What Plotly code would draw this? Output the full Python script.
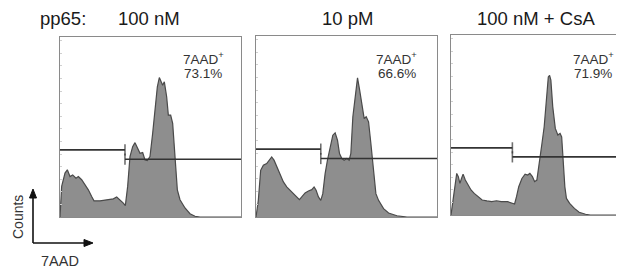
import plotly.graph_objects as go

# ---- data (x: 7AAD channel 0-1000, y: counts as % of panel height) ----
titles = ["100 nM", "10 pM", "100 nM + CsA"]
label_prefix = "pp65:"
pct_labels = ["73.1%", "66.6%", "71.9%"]

x1 = [0, 9.2, 27.6, 40.5, 55.2, 70.0, 88.4, 101.3, 119.7, 138.1, 156.5, 175.0, 187.8, 221.0, 257.8,
      294.7, 313.1, 331.5, 349.9, 361.0, 373.8, 386.7, 401.5, 414.4, 427.3, 442.0, 456.7, 469.6, 482.5,
      497.2, 512.0, 524.9, 537.8, 548.8, 556.2, 567.2, 576.4, 589.3, 598.5, 611.4, 622.5, 635.4, 648.3,
      663.0, 690.6, 718.2, 745.9, 773.5, 1000]
y1 = [0, 17.0, 24.4, 26.2, 22.5, 23.4, 21.6, 22.5, 20.7, 17.9, 15.1, 11.4, 9.0, 9.0, 9.6,
      10.1, 11.1, 9.6, 7.7, 6.3, 17.0, 33.6, 39.1, 41.3, 38.2, 35.4, 35.8, 31.7, 31.4,
      33.6, 46.5, 61.3, 72.3, 77.5, 76.0, 73.2, 75.1, 66.8, 56.6, 56.6, 52.0, 35.4, 15.1,
      9.6, 5.0, 1.8, 0.4, 0, 0]

x2 = [0, 12.9, 25.8, 40.6, 59.0, 73.8, 86.7, 99.6, 114.4, 132.8, 151.3, 169.7, 197.4, 225.1, 239.9,
      252.8, 271.2, 289.7, 308.1, 321.0, 332.1, 345.0, 357.9, 369.0, 381.9, 394.8, 409.6, 424.4, 437.3,
      450.2, 461.3, 474.2, 487.1, 501.8, 514.8, 524.0, 535.1, 548.0, 560.9, 572.0, 584.9, 597.8, 608.9,
      621.8, 634.7, 649.4, 662.4, 677.1, 704.8, 732.5, 778.6, 833.9, 1000]
y2 = [0, 9.2, 25.8, 28.6, 29.5, 31.7, 33.2, 31.4, 27.7, 23.1, 19.4, 16.6, 13.8, 11.4, 9.6,
      11.1, 13.3, 14.4, 15.1, 16.6, 14.8, 11.1, 9.2, 12.9, 24.0, 31.4, 38.7, 45.2, 46.5,
      42.4, 35.1, 32.3, 31.4, 32.3, 31.4, 35.1, 55.4, 66.4, 76.9, 70.5, 60.9, 54.4, 55.4,
      52.6, 40.6, 24.0, 12.9, 9.2, 4.6, 2.2, 0.7, 0, 0]

x3 = [0, 11.0, 23.9, 33.1, 42.3, 51.5, 60.7, 69.9, 82.7, 97.4, 115.8, 134.2, 158.1, 180.1, 207.7,
      235.3, 262.9, 290.4, 327.2, 354.8, 367.6, 378.7, 391.5, 409.9, 428.3, 443.0, 455.9, 470.6, 483.5,
      496.3, 511.0, 525.7, 538.6, 551.5, 562.5, 569.9, 577.2, 588.2, 602.9, 617.6, 630.5, 639.7, 648.9,
      658.1, 667.3, 685.7, 713.2, 740.8, 777.6, 805.1, 1000]
y3 = [0, 8.3, 18.5, 23.1, 21.3, 17.6, 20.3, 22.7, 19.4, 16.6, 13.9, 12.0, 10.2, 8.3, 7.8,
      7.4, 7.9, 7.4, 7.4, 6.5, 6.1, 10.2, 15.7, 20.3, 22.7, 22.2, 23.1, 21.3, 18.5,
      19.4, 28.7, 39.7, 49.0, 63.8, 76.7, 77.6, 74.9, 60.1, 48.1, 44.4, 45.3, 43.4, 30.5,
      15.7, 9.2, 6.5, 3.7, 1.5, 0.4, 0, 0]

gate_split = [359.0, 357.9, 354.8]
gate_left_y = [37.3, 37.5, 37.3]
gate_right_y = [32.1, 32.3, 32.3]

xs = [x1, x2, x3]
ys = [y1, y2, y3]

# The page body has an 8px margin, so the figure starts at page pixel 8.
OFF = 8
W, H = 624 - OFF, 272 - OFF
def px(v):
    return (v - OFF) / W
def py(v):
    return 1 - (v - OFF) / H

# panel page-pixel boxes (left, right, top, bottom); panel 3 runs past the window edge
boxes = [(60, 241, 37, 217), (256, 437, 36, 217), (451, 632, 35, 215)]

fig = go.Figure()
font = "Liberation Sans, Arial, sans-serif"
border = "#8a8a8a"

def label(x, y, text, size, color="#333333", angle=0):
    fig.add_annotation(x=px(x), y=py(y), xref="paper", yref="paper", text=text,
                       xanchor="center", yanchor="middle", showarrow=False, textangle=angle,
                       font=dict(family=font, size=size, color=color))

for i in range(3):
    xa = "x" if i == 0 else f"x{i+1}"
    ya = "y" if i == 0 else f"y{i+1}"
    fig.add_trace(go.Scatter(x=xs[i], y=ys[i], mode="lines", fill="tozeroy",
                             fillcolor="#8e8e8e", line=dict(color="#4a4a4a", width=1.2),
                             xaxis=xa, yaxis=ya, showlegend=False, hoverinfo="skip"))
    fig.add_trace(go.Scatter(x=[0, gate_split[i]], y=[gate_left_y[i]] * 2, mode="lines+markers",
                             line=dict(color="#333333", width=1.6),
                             marker=dict(symbol="line-ns-open", size=[0, 8],
                                         line=dict(color="#333333", width=1.6)),
                             xaxis=xa, yaxis=ya, showlegend=False, hoverinfo="skip", cliponaxis=False))
    fig.add_trace(go.Scatter(x=[gate_split[i], 1000], y=[gate_right_y[i]] * 2, mode="lines+markers",
                             line=dict(color="#333333", width=1.6),
                             marker=dict(symbol="line-ns-open", size=[8, 0],
                                         line=dict(color="#333333", width=1.6)),
                             xaxis=xa, yaxis=ya, showlegend=False, hoverinfo="skip", cliponaxis=False))

    l, r, t, b = boxes[i]
    xkey = "xaxis" if i == 0 else f"xaxis{i+1}"
    ykey = "yaxis" if i == 0 else f"yaxis{i+1}"
    fig.layout[xkey] = dict(domain=[px(l), min(px(r), 1.0)], range=[0, 1000], showgrid=False,
                            zeroline=False, showticklabels=False, showline=True, linecolor=border,
                            linewidth=1.2, mirror=True, ticks="", anchor=ya, fixedrange=True)
    fig.layout[ykey] = dict(domain=[py(b), py(t)], range=[0, 100], showgrid=False, zeroline=False,
                            showticklabels=False, showline=True, linecolor=border, linewidth=1.2,
                            mirror=True, ticks="inside", ticklen=2, tickcolor="#d0d0d0",
                            dtick=7, anchor=xa, fixedrange=True)

    label([149, 347, 536][i], 19, titles[i], 18.5, "#1a1a1a")
    lx = [203, 397, 593][i]
    label(lx, 58, "7AAD<sup>+</sup>", 13.5)
    label(lx, 73, pct_labels[i], 13.5)

label(62.5, 19, label_prefix, 18.5, "#1a1a1a")

# axis key arrows drawn as shapes (lines + triangular heads) in page pixels
def pline(x0, y0, x1_, y1_):
    fig.add_shape(type="line", xref="paper", yref="paper", x0=px(x0), y0=py(y0),
                  x1=px(x1_), y1=py(y1_), line=dict(color="#111111", width=1.6))

def phead(pts):
    path = "M " + " L ".join(f"{px(a):.5f},{py(b):.5f}" for a, b in pts) + " Z"
    fig.add_shape(type="path", xref="paper", yref="paper", path=path,
                  fillcolor="#111111", line=dict(color="#111111", width=1))

pline(33, 243, 33, 196)
phead([(33, 189), (29.5, 198), (36.5, 198)])
pline(33, 243, 86, 243)
phead([(93, 243), (84, 239.5), (84, 246.5)])

label(18, 217, "Counts", 14, angle=-90)
label(60, 261, "7AAD", 14.5)

fig.update_layout(width=W, height=H, margin=dict(l=0, r=0, t=0, b=0),
                  paper_bgcolor="white", plot_bgcolor="white")

fig.write_html("out.html")
